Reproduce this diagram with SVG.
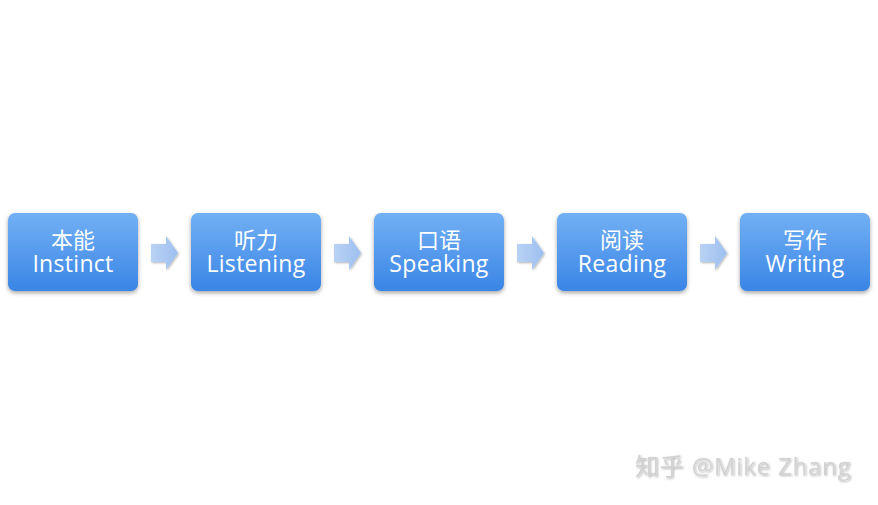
<svg xmlns="http://www.w3.org/2000/svg" width="878" height="505" viewBox="0 0 878 505">
<defs>
<linearGradient id="box" x1="0" y1="0" x2="0" y2="1">
<stop offset="0" stop-color="#72b0f4"/>
<stop offset="1" stop-color="#3a85e6"/>
</linearGradient>
<linearGradient id="arr" x1="0" y1="0" x2="1" y2="0">
<stop offset="0" stop-color="#b9d2f4"/>
<stop offset="1" stop-color="#9dbff0"/>
</linearGradient>
<filter id="sh" x="-10%" y="-10%" width="120%" height="130%">
<feDropShadow dx="0" dy="2" stdDeviation="2" flood-color="#000" flood-opacity="0.35"/>
</filter>
<filter id="sh2" x="-10%" y="-10%" width="130%" height="130%">
<feDropShadow dx="1" dy="1" stdDeviation="1" flood-color="#000" flood-opacity="0.3"/>
</filter>
<path id="a" d="M0,8 H15 V0 L27,17 L15,34 V26 H0 Z"/>
</defs>
<style>
.b{fill:url(#box);filter:url(#sh)}
.t{font-family:"Open Sans","Noto Sans CJK SC",sans-serif;font-size:22px;fill:#fff;text-anchor:middle}
.e{font-size:23px;letter-spacing:0.3px}
.wm{font-family:"Open Sans","Noto Sans CJK SC",sans-serif;font-size:24px;fill:#d2d2d2;letter-spacing:0.8px;filter:url(#sh2)}
</style>
<rect width="878" height="505" fill="#fff"/>
<g id="connectors" fill="url(#arr)" filter="url(#sh2)">
<use href="#a" x="151" y="236"/>
<use href="#a" x="334" y="236"/>
<use href="#a" x="517" y="236"/>
<use href="#a" x="700" y="236"/>
</g>
<g id="n1"><rect class="b" x="8" y="213" width="130" height="78" rx="7"/><text class="t" x="73" y="248">本能</text><text class="t e" x="73" y="272">Instinct</text></g>
<g id="n2"><rect class="b" x="191" y="213" width="130" height="78" rx="7"/><text class="t" x="256" y="248">听力</text><text class="t e" x="256" y="272">Listening</text></g>
<g id="n3"><rect class="b" x="374" y="213" width="130" height="78" rx="7"/><text class="t" x="439" y="248">口语</text><text class="t e" x="439" y="272">Speaking</text></g>
<g id="n4"><rect class="b" x="557" y="213" width="130" height="78" rx="7"/><text class="t" x="622" y="248">阅读</text><text class="t e" x="622" y="272">Reading</text></g>
<g id="n5"><rect class="b" x="740" y="213" width="130" height="78" rx="7"/><text class="t" x="805" y="248">写作</text><text class="t e" x="805" y="272">Writing</text></g>
<text class="wm" x="635" y="475">知乎 @Mike Zhang</text>
</svg>
